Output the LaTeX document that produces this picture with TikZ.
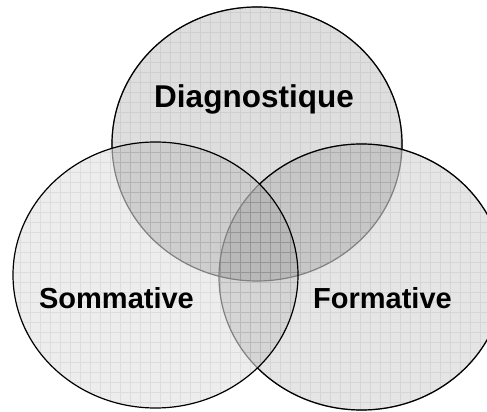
\documentclass[tikz,border=0pt]{standalone}
\usepackage{fontspec}
\setmainfont{Liberation Sans}
\begin{document}
\begin{tikzpicture}[x=1pt,y=1pt,
  lbl/.style={font=\bfseries\fontsize{29}{29}\selectfont, anchor=base, inner sep=0pt},
  outl/.style={line width=1.2pt},
  gridl/.style={draw=black, draw opacity=0.065, line width=0.8pt}]
\useasboundingbox (0,0) rectangle (487,412);
\def\topE{(257,268) ellipse [x radius=145, y radius=137]}
\def\leftE{(155.5,137) ellipse [x radius=142.5, y radius=133]}
\def\rightE{(361.5,135) ellipse [x radius=142.5, y radius=133]}
% fills
\fill[black, fill opacity=0.13] \topE;
\fill[black, fill opacity=0.07] \leftE;
\fill[black, fill opacity=0.10] \rightE;
% grids
\begin{scope}\clip \topE; \draw[gridl] (0,0) grid[step=10] (490,420);\end{scope}
\begin{scope}\clip \leftE; \draw[gridl] (0,0) grid[step=10] (490,420);\end{scope}
\begin{scope}\clip \rightE; \draw[gridl] (0,0) grid[step=10] (490,420);\end{scope}
% gray outlines (covered parts)
\draw[outl, draw=black!50] \topE;
\draw[outl, draw=black!50] \rightE;
% black outlines
\draw[outl] \leftE;
\begin{scope}
  \clip (-5,-5) -- (-5,420) -- (520,420) -- (520,-5) -- cycle \leftE;
  \draw[outl] \rightE;
  \clip (-5,-5) -- (-5,420) -- (520,420) -- (520,-5) -- cycle \rightE;
  \draw[outl] \topE;
\end{scope}
% labels
\node[lbl, font=\bfseries\fontsize{31.5}{31.5}\selectfont] (diag) at (254,304) {Diagnostique};
\node[lbl] (somm) at (116.5,103) {Sommative};
\node[lbl] (form) at (382.5,103) {Formative};
\end{tikzpicture}
\end{document}
